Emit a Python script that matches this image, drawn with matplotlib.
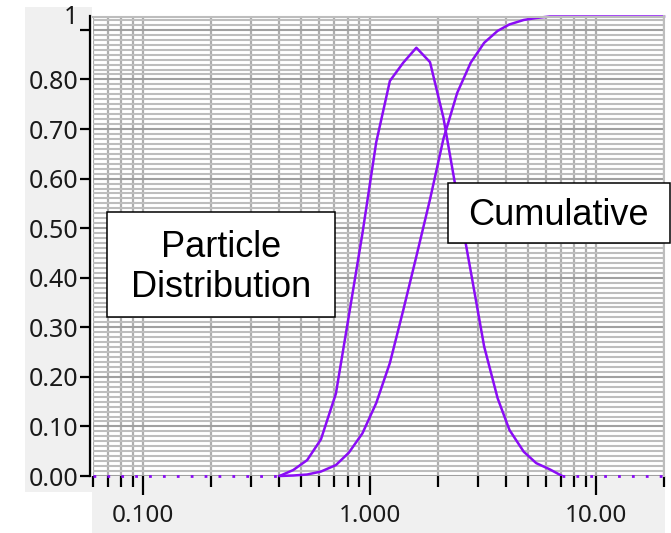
import matplotlib
matplotlib.use('Agg')
import matplotlib.pyplot as plt
from matplotlib.patches import Rectangle
from matplotlib.ticker import FixedLocator, FixedFormatter, LogLocator, MultipleLocator, NullFormatter

# particle size bins (log axis) and the two series
sizes = [0.40, 0.46, 0.53, 0.61, 0.71, 0.81, 0.93, 1.07, 1.23, 1.41, 1.61,
         1.85, 2.12, 2.44, 2.80, 3.21, 3.68, 4.15, 4.80, 5.45, 6.25, 7.10]
distribution = [0.000, 0.012, 0.032, 0.074, 0.166, 0.323, 0.489, 0.673, 0.797, 0.834, 0.864,
                0.835, 0.723, 0.564, 0.413, 0.261, 0.157, 0.093, 0.049, 0.026, 0.0135, 0.000]
cumulative = [0.000, 0.001, 0.003, 0.009, 0.022, 0.047, 0.086, 0.147, 0.228, 0.335, 0.443,
              0.558, 0.680, 0.773, 0.834, 0.874, 0.898, 0.911, 0.920, 0.924, 0.927, 0.927]

x_min, x_max = 0.06, 20
y_top = 0.927

x_major = [0.1, 1, 10]
x_labels = ['0.100', '1.000', '10.00']
y_ticks = [0, 0.1, 0.2, 0.3, 0.4, 0.5, 0.6, 0.7, 0.8, 0.9]
y_labels = ['0.00', '0.10', '0.20', '0.30', '0.40', '0.50', '0.60', '0.70', '0.80', '1']

purple = '#8a0cf5'
W, H = 671, 533


def fx(px):
    return px / W


def fy(py):
    return 1 - py / H


fig = plt.figure(figsize=(W / 100, H / 100), dpi=100)
fig.patch.set_facecolor('white')

# grey window panels behind the axes
panel = '#f0f0f0'
fig.patches.append(Rectangle((fx(25), fy(492)), fx(67), 485 / H, transform=fig.transFigure,
                             facecolor=panel, edgecolor='none', zorder=-5))
fig.patches.append(Rectangle((fx(92), 0), fx(573), 57 / H, transform=fig.transFigure,
                             facecolor=panel, edgecolor='none', zorder=-5))

ax = fig.add_axes([fx(93), 57 / H, fx(571), 459.5 / H])
ax.set_facecolor('white')
ax.set_xscale('log')
ax.set_xlim(x_min, x_max)
ax.set_ylim(0, y_top)

# dense grid like the original control
ax.yaxis.set_major_locator(FixedLocator(y_ticks))
ax.yaxis.set_major_formatter(FixedFormatter(y_labels))
ax.yaxis.set_minor_locator(MultipleLocator(0.01))
ax.xaxis.set_major_locator(FixedLocator(x_major))
ax.xaxis.set_major_formatter(FixedFormatter(x_labels))
ax.xaxis.set_minor_locator(LogLocator(base=10, subs=[2, 3, 4, 5, 6, 7, 8, 9]))
ax.xaxis.set_minor_formatter(NullFormatter())
ax.set_axisbelow(True)
ax.grid(True, which='minor', axis='y', color='#bdbdbd', lw=1.5)
ax.grid(True, which='major', axis='y', color='#a0a0a0', lw=1.5)
ax.grid(True, which='both', axis='x', color='#aeaeae', lw=1.6)

ax.spines['bottom'].set_visible(False)
for s in ['top', 'right']:
    ax.spines[s].set_color('#bdbdbd')
    ax.spines[s].set_linewidth(1.5)
ax.spines['left'].set_linestyle((0, (1, 1)))
ax.spines['left'].set_linewidth(1.6)
ax.spines['left'].set_position(('outward', 2))

ax.tick_params(axis='y', which='major', length=7.5, width=1.6, pad=1, labelsize=18)
ax.tick_params(axis='y', which='minor', length=0)
ax.tick_params(axis='x', which='major', length=14, width=1.6, pad=6, labelsize=17.5)
ax.tick_params(axis='x', which='minor', length=8, width=1.6)
for lab in ax.get_yticklabels() + ax.get_xticklabels():
    lab.set_family(['Noto Sans', 'DejaVu Sans'])
    lab.set_color('#1a1a1a')
ax.get_yticklabels()[-1].set_va('bottom')

# series
ax.plot([x_min, sizes[0]], [0, 0], color=purple, lw=2, ls=(0, (1, 4)), clip_on=False)
ax.plot([sizes[-1], x_max], [0, 0], color=purple, lw=2, ls=(0, (1, 4)), clip_on=False)
ax.plot(sizes, distribution, color=purple, lw=1.8)
ax.plot(sizes + [x_max], cumulative + [cumulative[-1]], color=purple, lw=1.8, clip_on=False)

# label boxes (text anchored on the baseline of the last line)
boxes = [
    (107, 212, 335, 317, 'Particle\nDistribution', 221, 297),
    (448, 183, 670, 243, 'Cumulative', 558, 225),
]
for x0, y0, x1, y1, txt, tx, ty in boxes:
    fig.patches.append(Rectangle((fx(x0), fy(y1)), (x1 - x0) / W, (y1 - y0) / H,
                                 transform=fig.transFigure, facecolor='white',
                                 edgecolor='black', lw=1.1, zorder=5))
    fig.text(fx(tx), fy(ty), txt, ha='center', va='baseline', fontsize=26,
             family='Liberation Sans', color='black', zorder=6, linespacing=1.2)

fig.savefig('out.png', dpi=100)
